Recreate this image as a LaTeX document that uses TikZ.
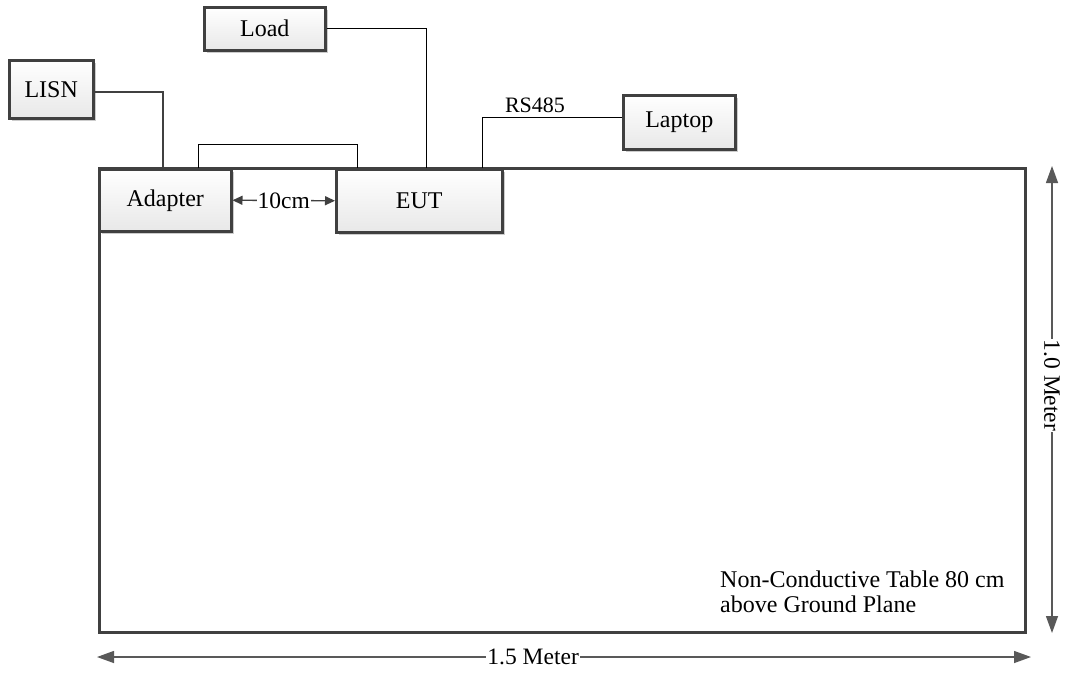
\documentclass[tikz,border=0pt]{standalone}
\usepackage{fontspec}
\setmainfont{Liberation Serif}
\usetikzlibrary{arrows.meta,shadows}
\definecolor{edge}{HTML}{404040}
\tikzset{
  box/.style={draw=edge, line width=2.5pt, top color=white, bottom color=gray!18,
    drop shadow={shadow xshift=3pt, shadow yshift=-3pt, fill=gray!40, opacity=1},
    font=\fontsize{24}{26}\selectfont, inner sep=0pt, anchor=north west},
  tablebox/.style={draw=edge, line width=3pt, fill=white, inner sep=0pt, anchor=north west},
  wire/.style={draw=black, line width=1pt},
  thickwire/.style={draw=edge, line width=2.2pt},
  dim/.style={draw=gray!70!black, line width=1.3pt,
    {Triangle[length=17pt,width=12pt]}-{Triangle[length=17pt,width=12pt]}},
  gap/.style={draw=edge, line width=1.3pt,
    {Triangle[length=10pt,width=9pt]}-{Triangle[length=10pt,width=9pt]}},
  lbl/.style={font=\fontsize{23.5}{26}\selectfont, fill=white, inner sep=1pt}
}
\begin{document}
\begin{tikzpicture}[x=1pt,y=-1pt]
\useasboundingbox (0,0) rectangle (1068,672);
\node[tablebox, minimum width=926pt, minimum height=464pt] (table) at (98,167) {};
\node[box, minimum width=132pt, minimum height=62pt] (adapter) at (98,168) {Adapter};
\node[box, minimum width=166pt, minimum height=63pt] (eut) at (335,168) {EUT};
\node[box, minimum width=84pt, minimum height=58pt] (lisn) at (8,59) {LISN};
\node[box, minimum width=121pt, minimum height=43pt] (load) at (203,6) {Load};
\node[box, minimum width=112pt, minimum height=54pt] (laptop) at (622,94) {Laptop};
\draw[thickwire] ([yshift=-3pt]lisn.east) -| ([xshift=65pt]adapter.north west);
\draw[wire] ([xshift=100pt]adapter.north west) -- ++(0,-24) -| ([xshift=22pt]eut.north west);
\draw[wire] (load.east) -| ([xshift=91pt]eut.north west);
\draw[wire] ([yshift=5pt]laptop.west) -| ([xshift=147pt]eut.north west);
\node[font=\fontsize{22}{24}\selectfont, inner sep=0pt] (rs) at (535,105) {RS485};
\draw[gap] (adapter.east) -- node[lbl] (gaplbl) {10cm} (eut.west);
\coordinate (bl) at (97,657);
\coordinate (br) at (1031,657);
\draw[dim] (bl) -- node[lbl, pos=0.467] (wlbl) {1.5 Meter} (br);
\coordinate (vt) at (1052,166);
\coordinate (vb) at (1052,633);
\draw[dim] (vt) -- node[lbl, pos=0.47, rotate=-90] (hlbl) {1.0 Meter} (vb);
\node[anchor=north west, align=left, inner sep=0pt, font=\fontsize{24}{25}\selectfont] (note) at (720,571) {Non-Conductive Table 80 cm\\above Ground Plane};
\end{tikzpicture}
\end{document}
